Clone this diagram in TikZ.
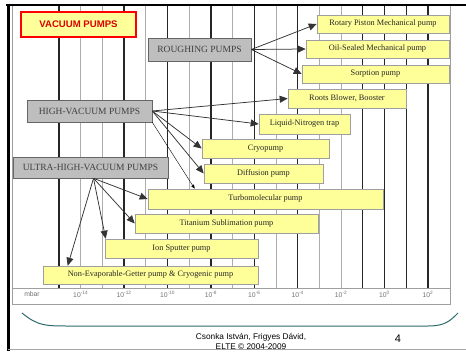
\documentclass[tikz,border=0pt]{standalone}
\usepackage{fontspec}
\setmainfont{Liberation Serif}
\setsansfont{Liberation Sans}
\usetikzlibrary{arrows.meta,calc}
\definecolor{yfill}{HTML}{FFFF99}
\definecolor{gfill}{HTML}{BEBEBE}
\definecolor{gtext}{HTML}{404040}
\definecolor{lineclr}{HTML}{333333}
\definecolor{curveclr}{HTML}{2E6B6E}
\begin{document}
\begin{tikzpicture}[x=1pt,y=-1pt,
  ybox/.style={draw=gray!75, fill=yfill, line width=0.6pt, inner sep=0pt,
    font=\fontsize{8.3}{9}\selectfont, text=black!85},
  gbox/.style={draw=gray!80!black, fill=gfill, line width=0.6pt, inner sep=0pt,
    font=\fontsize{9.5}{10}\selectfont, text=gtext},
  conn/.style={draw=lineclr, line width=0.75pt, -{Triangle[length=8pt,width=7pt]}},
  thinconn/.style={draw=black, line width=0.4pt, -{Triangle[length=4pt,width=3pt]}},
  darkline/.style={draw=black!85, line width=1.3pt},
  greyline/.style={draw=gray!65, line width=0.9pt},
  axislbl/.style={font=\sffamily\fontsize{6.8}{7}\selectfont, text=gray!90!black, inner sep=0pt}]
\useasboundingbox (0,0) rectangle (466,351);
\fill[white] (0,0) rectangle (466,351);
% chart frame
\draw[gray!75, line width=0.8pt] (12,5) rectangle (450,304);
% grid lines
\foreach \i in {0,3,5,7,9,11,14,15,16,17}
  \draw[darkline] ({59+21.7*\i},5) -- ({59+21.7*\i},288);
\foreach \i in {1,2,4,6,8,10,12,13}
  \draw[greyline] ({59+21.7*\i},5) -- ({59+21.7*\i},288);
\draw[gray!75, line width=0.8pt] (12,288) -- (450,288);
% axis labels
\node[axislbl] (mbar) at (32,294) {mbar};
\foreach \i/\e in {1/-14,3/-12,5/-10,7/-8,9/-6,11/-4,13/-2,15/0,17/2}
  \node[axislbl] (lbl\i) at ({59+21.7*\i},294) {10\textsuperscript{\e}};
% slide frame
\draw[black, line width=2.8pt] (6,5) -- (466,5);
\draw[black, line width=3pt] (8,3.6) -- (8,351);
\draw[gray!70, line width=0.8pt] (8,349.5) -- (466,349.5);
% headings
\node[draw=red, line width=1.3pt, fill=yfill, minimum width=115, minimum height=25, inner sep=0pt,
  font=\sffamily\bfseries\fontsize{9.6}{10}\selectfont, text=red!85!black] (vac) at (78.5,24.5) {VACUUM PUMPS};
\node[gbox, minimum width=103, minimum height=23] (rough) at (199.5,49.5) {ROUGHING PUMPS};
\node[gbox, minimum width=125, minimum height=22] (hv) at (89.5,111) {HIGH-VACUUM PUMPS};
\node[gbox, minimum width=155, minimum height=21] (uhv) at (90.5,167.5) {ULTRA-HIGH-VACUUM PUMPS};
% pumps
\node[ybox, minimum width=132, minimum height=18] (rotary) at (383,24) {Rotary Piston Mechanical pump};
\node[ybox, minimum width=143, minimum height=18] (oil) at (377.5,49) {Oil-Sealed Mechanical pump};
\node[ybox, minimum width=147, minimum height=18] (sorp) at (375.5,74) {Sorption pump};
\node[ybox, minimum width=118, minimum height=19] (roots) at (347,98.5) {Roots Blower, Booster};
\node[ybox, minimum width=91, minimum height=20] (ln2) at (304.5,124) {Liquid-Nitrogen trap};
\node[ybox, minimum width=127, minimum height=19] (cryo) at (265.5,148.5) {Cryopump};
\node[ybox, minimum width=119, minimum height=19] (diff) at (263.5,173.5) {Diffusion pump};
\node[ybox, minimum width=235, minimum height=20] (turbo) at (265.5,199) {Turbomolecular pump};
\node[ybox, minimum width=183, minimum height=19] (tisub) at (226.5,223.5) {Titanium Sublimation pump};
\node[ybox, minimum width=153, minimum height=19] (ion) at (181.5,248.5) {Ion Sputter pump};
\node[ybox, minimum width=215, minimum height=18] (neg) at (150.5,275) {Non-Evaporable-Getter pump \& Cryogenic pump};
% connectors
\draw[conn] (rough.east) -- (rotary.west);
\draw[conn] (rough.east) -- (oil.west);
\draw[conn] (rough.east) -- (sorp.west);
\draw[conn] (hv.east) -- (roots.west);
\draw[conn] (hv.east) -- (ln2.west);
\draw[conn] (hv.east) -- (cryo.west);
\draw[conn] (hv.east) -- (diff.west);
\draw[thinconn] (hv.south east) -- ([xshift=47pt]turbo.north west);
\coordinate (uhvfoot) at ([xshift=3pt]uhv.south);
\draw[conn] (uhvfoot) -- (turbo.west);
\draw[conn] (uhvfoot) -- (tisub.west);
\draw[conn] (uhvfoot) -- ([xshift=1pt]ion.north west);
\draw[conn] (uhvfoot) -- ([xshift=25pt]neg.north west);
% footer
\draw[curveclr, line width=1pt] (22,313) .. controls (38,326) and (45,326) .. (70,326)
  -- (428,326) .. controls (445,326) and (450,321) .. (458,313);
\node[font=\sffamily\fontsize{8.3}{9}\selectfont, inner sep=0pt] (auth) at (251,337.5) {Csonka István, Frigyes Dávid,};
\node[font=\sffamily\fontsize{8.3}{9}\selectfont, inner sep=0pt] (elte) at (251,346.5) {ELTE © 2004-2009};
\node[font=\sffamily\fontsize{11}{12}\selectfont, inner sep=0pt] (page) at (398,339) {4};
\end{tikzpicture}
\end{document}
